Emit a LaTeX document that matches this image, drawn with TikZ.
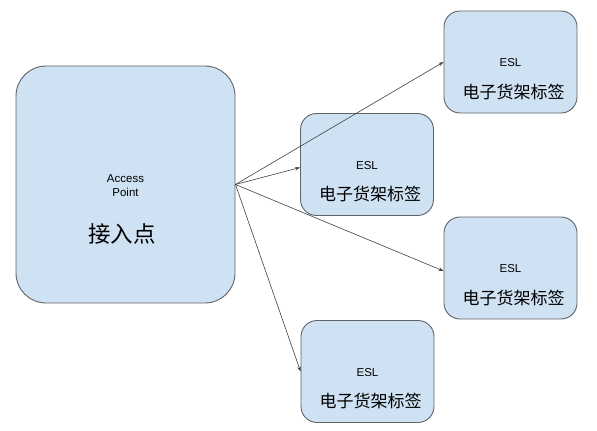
\documentclass[tikz,border=0pt]{standalone}
\usepackage{fontspec}
\setmainfont{Liberation Sans}
\newfontfamily\cjk{Noto Sans CJK SC}
\usetikzlibrary{arrows.meta,positioning,calc}
\definecolor{boxfill}{HTML}{CFE2F3}
\definecolor{boxline}{HTML}{5F6368}
\definecolor{arrowc}{HTML}{404040}
\begin{document}
\begin{tikzpicture}[x=1pt,y=-1pt,
  apbox/.style={draw=boxline,fill=boxfill,line width=0.9pt,rounded corners=30pt,
    minimum width=219pt,minimum height=237pt,inner sep=0pt},
  eslbox/.style={draw=boxline,fill=boxfill,line width=0.9pt,rounded corners=16pt,
    minimum width=133pt,minimum height=102pt,inner sep=0pt},
  smalltxt/.style={font=\fontsize{11.5}{14.5}\selectfont,align=center,inner sep=0pt,text=black},
  cjktxt/.style={font=\cjk\fontsize{17}{20}\selectfont,inner sep=0pt,text=black},
  bigcjk/.style={font=\cjk\fontsize{22.5}{26}\selectfont,inner sep=0pt,text=black},
  conn/.style={draw=arrowc,line width=0.6pt,-{Stealth[length=5pt,width=3.5pt]}}]
\useasboundingbox (0,0) rectangle (597,431);
\node[apbox] (ap) at (125.5,184.5) {};
\node[eslbox] (e1) at (510.5,62) {};
\node[eslbox] (e2) at (367,164.5) {};
\node[eslbox] (e3) at (510.5,268) {};
\node[eslbox] (e4) at (367.5,371.5) {};
\node[smalltxt] (apt) at (125.5,185.5) {Access\\Point};
\node[bigcjk] (apc) at (122,233.5) {接入点};
\foreach \n in {e1,e2,e3,e4}{
  \node[smalltxt] (\n t) at ($(\n.center)+(0,1)$) {ESL};
  \node[cjktxt] (\n c) at ($(\n.center)+(3,30)$) {电子货架标签};
}
\draw[conn] (ap.east) -- (e1.west);
\draw[conn] (ap.east) -- ($(e2.west)+(0,3)$);
\draw[conn] (ap.east) -- ($(e3.west)+(0,3)$);
\draw[conn] (ap.east) -- (e4.west);
\end{tikzpicture}
\end{document}
